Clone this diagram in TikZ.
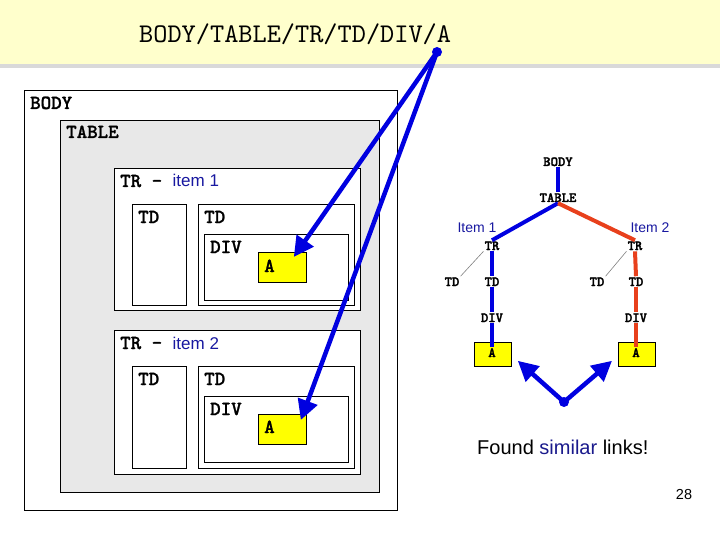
\documentclass[tikz,border=0pt]{standalone}
\usepackage{fontspec}
\setmainfont{Liberation Sans}
\newfontfamily\monof{lmmono10-regular.otf}
\newfontfamily\monob[FakeBold=1.2]{lmmonolt10-bold.otf}
\newfontfamily\monotree[FakeBold=2]{lmmonolt10-bold.otf}
\usetikzlibrary{arrows.meta,calc}
\definecolor{bannery}{HTML}{FFFFCC}
\definecolor{bannershadow}{HTML}{D9D9D9}
\definecolor{tablegray}{HTML}{E8E8E8}
\definecolor{ayellow}{HTML}{FFFF00}
\definecolor{lineblue}{HTML}{0000E0}
\definecolor{linered}{HTML}{E8401C}
\definecolor{itemblue}{HTML}{1818A0}
\definecolor{simblue}{HTML}{1A1A8C}
\tikzset{
  htmlbox/.style={draw=black, line width=0.8pt, inner sep=0pt, anchor=north west, fill=white},
  mlab/.style={font=\monob\fontsize{20}{20}\selectfont, anchor=base west, inner sep=0pt},
  tlab/.style={font=\monotree\fontsize{14}{14}\selectfont, anchor=base, inner sep=1pt},
  ilab/.style={font=\fontsize{14}{14}\selectfont, text=itemblue, anchor=base, inner sep=0pt},
  bigarrow/.style={draw=lineblue, line width=4.5pt, -{Triangle[length=20pt,width=20pt]}},
  bluetree/.style={draw=lineblue, line width=4pt},
  redtree/.style={draw=linered, line width=4pt},
  tdlink/.style={draw=gray, line width=0.6pt},
}
\begin{document}
\begin{tikzpicture}[x=1pt,y=-1pt]
\useasboundingbox (0,0) rectangle (720,540);
% banner
\fill[bannery] (0,0) rectangle (720,64);
\fill[bannershadow] (0,64) rectangle (720,68);
\node[font=\monof\fontsize{27}{27}\selectfont, anchor=base west, inner sep=0pt] (title) at (139,43) {BODY/TABLE/TR/TD/DIV/A};

% left nested boxes
\node[htmlbox, minimum width=373pt, minimum height=420pt] (bodybox) at (24,90) {};
\node[mlab] (bodylab) at (30,109) {BODY};
\node[htmlbox, fill=tablegray, minimum width=319pt, minimum height=372pt] (tablebox) at (60,120) {};
\node[mlab] (tablelab) at (66,138) {TABLE};

% item 1
\node[htmlbox, minimum width=246pt, minimum height=142pt] (tra) at (114,168) {};
\node[mlab] (tralab) at (120,187) {TR - {\normalfont\mdseries\fontsize{17}{17}\selectfont\color{itemblue}item 1}};
\node[htmlbox, minimum width=54pt, minimum height=101pt] (tdaa) at (132,204) {};
\node[mlab] (tdaalab) at (138,223) {TD};
\node[htmlbox, minimum width=156pt, minimum height=101pt] (tdab) at (198,204) {};
\node[mlab] (tdablab) at (204,223) {TD};
\node[htmlbox, minimum width=144pt, minimum height=66pt] (diva) at (204,234) {};
\node[mlab] (divalab) at (210,253) {DIV};
\node[htmlbox, fill=ayellow, minimum width=48pt, minimum height=30pt] (aa) at (258,252) {};
\node[mlab] (aalab) at (264,272) {A};

% item 2
\node[htmlbox, minimum width=246pt, minimum height=144pt] (trb) at (114,330) {};
\node[mlab] (trblab) at (120,349) {TR - {\normalfont\mdseries\fontsize{17}{17}\selectfont\color{itemblue}item 2}};
\node[htmlbox, minimum width=54pt, minimum height=102pt] (tdba) at (132,366) {};
\node[mlab] (tdbalab) at (138,385) {TD};
\node[htmlbox, minimum width=156pt, minimum height=102pt] (tdbb) at (198,366) {};
\node[mlab] (tdbblab) at (204,385) {TD};
\node[htmlbox, minimum width=144pt, minimum height=66pt] (divb) at (204,396) {};
\node[mlab] (divblab) at (210,415) {DIV};
\node[htmlbox, fill=ayellow, minimum width=48pt, minimum height=30pt] (ab) at (258,414) {};
\node[mlab] (ablab) at (264,433) {A};

% arrows from title
\coordinate (tdot) at (437,52);
\draw[bigarrow] (tdot) -- ($(aa.north east)+(-13,5)$);
\draw[bigarrow] (tdot) -- ($(ab.north east)+(-6,6)$);
\fill[lineblue] (tdot) circle (5pt);

% right tree
\node[tlab] (tbody) at (558,166) {BODY};
\node[tlab] (ttable) at (558,202) {TABLE};
\node[tlab] (ttra) at (492,250) {TR};
\node[tlab] (ttrb) at (635,250) {TR};
\node[ilab] (itema) at (477,233) {Item 1};
\node[ilab] (itemb) at (650,233) {Item 2};
\node[tlab] (ttdal) at (452,286) {TD};
\node[tlab] (ttda) at (492,286) {TD};
\node[tlab] (ttdbl) at (597,286) {TD};
\node[tlab] (ttdb) at (636,286) {TD};
\node[tlab] (tdiva) at (492,322) {DIV};
\node[tlab] (tdivb) at (636,322) {DIV};
\node[draw=black, line width=0.8pt, fill=ayellow, anchor=north west, inner sep=0pt, minimum width=37pt, minimum height=24pt] (tabox) at (474,342) {};
\node[draw=black, line width=0.8pt, fill=ayellow, anchor=north west, inner sep=0pt, minimum width=37pt, minimum height=24pt] (tbbox) at (618,342) {};

\draw[bluetree] (tbody.south) -- (ttable.north);
\draw[bluetree] (ttable.south) -- (ttra.north);
\draw[redtree] (ttable.south) -- (ttrb.north);
\draw[bluetree] (ttra.south) -- (ttda.north);
\draw[bluetree] (ttda.south) -- (tdiva.north);
\draw[redtree] (ttrb.south) -- (ttdb.north);
\draw[redtree] (ttdb.south) -- (tdivb.north);
\node[tlab] (taa) at (492,357) {A};
\node[tlab] (tab) at (636,357) {A};
\draw[bluetree] (tdiva.south) -- (taa.north);
\draw[redtree] (tdivb.south) -- (tab.north);
\draw[tdlink] (ttra.south west) -- (ttdal.north east);
\draw[tdlink] (ttrb.south west) -- (ttdbl.north east);

% similar arrows
\coordinate (vdot) at (564,402);
\draw[bigarrow] (vdot) -- ($(tabox.south east)+(6,-6)$);
\draw[bigarrow] (vdot) -- ($(tbbox.south west)+(-6,-6)$);
\fill[lineblue] (vdot) circle (5pt);

\node[font=\fontsize{20}{20}\selectfont, anchor=base west, inner sep=0pt] (found) at (477,454) {Found {\color{simblue}similar} links!};
\node[font=\fontsize{14.5}{14.5}\selectfont, anchor=base, inner sep=0pt] (pagenum) at (684,499) {28};
\end{tikzpicture}
\end{document}
